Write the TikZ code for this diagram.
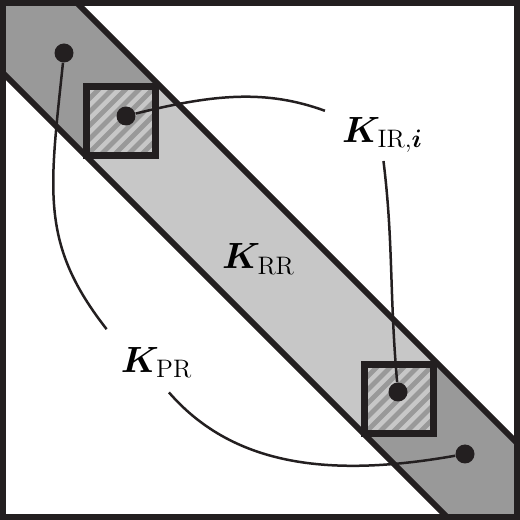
\documentclass[tikz,border=0pt]{standalone}
\usepackage{bm}
\usetikzlibrary{positioning}

\definecolor{bandlight}{gray}{0.78}
\definecolor{banddark}{gray}{0.60}
\definecolor{inkblack}{RGB}{35,31,32}

\tikzset{
	edge/.style={draw=inkblack, line width=1.2mm},
	dot/.style={circle, fill=inkblack, minimum size=3.8mm, inner sep=0pt},
	lbl/.style={inner sep=0pt, font=\fontsize{22}{26}\selectfont},
	link/.style={draw=inkblack, line width=0.5mm},
}

\begin{document}
\begin{tikzpicture}[x=0.2mm, y=0.2mm]
			\useasboundingbox (0,0) rectangle (520,520);
			
			% Diagonal band with dark corner blocks
			\fill[bandlight] (0,520) -- (74,520) -- (520,74) -- (520,0) -- (450,0) -- (0,450) -- cycle;
			\begin{scope}
				\clip (0,520) -- (74,520) -- (520,74) -- (520,0) -- (450,0) -- (0,450) -- cycle;
				\fill[banddark] (0,361) rectangle (159,520);
				\fill[banddark] (361,0) rectangle (520,159);
			\end{scope}
			\draw[edge] (74,520) -- (520,74);
			\draw[edge] (0,450) -- (450,0);
			
			% Hatched blocks on the diagonal
			\foreach \cx/\cy in {121/399, 399/121} {
				\begin{scope}
					\clip (\cx-34.5,\cy-34.5) rectangle (\cx+34.5,\cy+34.5);
					\fill[bandlight] (\cx-34.5,\cy-34.5) rectangle (\cx+34.5,\cy+34.5);
					\foreach \k in {-7,...,7}
						\draw[banddark, line width=0.95mm] (\cx-80+\k*13.5,\cy-80) -- ++(160,160);
				\end{scope}
				\draw[inkblack, line width=1.4mm] (\cx-34.5,\cy-34.5) rectangle (\cx+34.5,\cy+34.5);
			}
			
			% Outer frame
			\draw[edge] (3,3) rectangle (517,517);
			
			% Dots
			\node[dot] (dPtop) at (64,467) {};
			\node[dot] (dItop) at (126,404) {};
			\node[dot] (dIbot) at (398,128) {};
			\node[dot] (dPbot) at (465,66) {};
			
			% Labels
			\node[lbl] (KRR) at (258.5,261) {$\bm{K}_{\mathrm{RR}}$};
			\node[lbl] (KIR) at (382.5,385) {$\bm{K}_{\mathrm{IR},\bm{i}}$};
			\node[lbl] (KPR) at (156.5,157.5) {$\bm{K}_{\mathrm{PR}}$};
			
			% Leaders from dots to labels
			\draw[link, shorten >=4.5mm] (dPtop) to[out=-96, in=128, looseness=1.15] (KPR.north west);
			\draw[link, shorten >=3.8mm] (dPbot) to[out=190, in=-49] (KPR.south);
			\draw[link, shorten >=3.6mm] (dItop) to[out=14, in=160] (KIR.north west);
			\draw[link, shorten >=1.6mm] (dIbot) to[out=95, in=-83] (KIR.south);
		\end{tikzpicture}
\end{document}
